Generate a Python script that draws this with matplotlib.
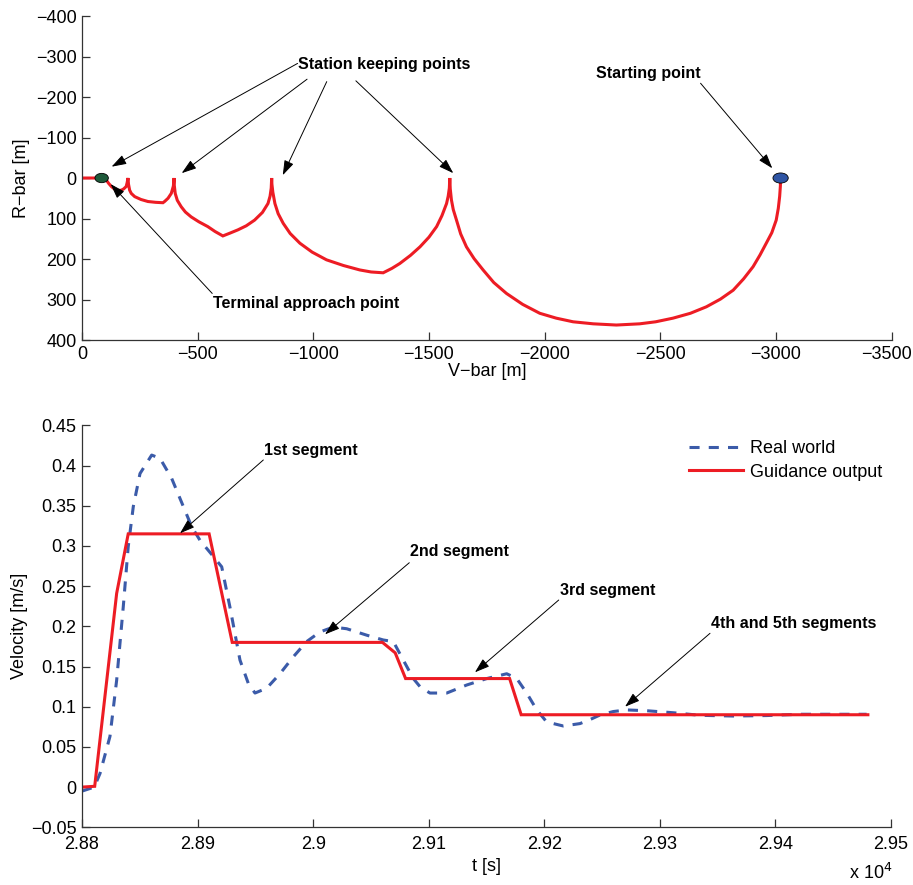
#!/usr/bin/env python3
"""Rendezvous trajectory (V-bar / R-bar) and velocity profile vs time."""
import matplotlib

matplotlib.use("Agg")
import matplotlib.pyplot as plt
from matplotlib.patches import Ellipse
from matplotlib.ticker import FuncFormatter
from matplotlib.transforms import ScaledTranslation

plt.rcParams["font.family"] = ["Liberation Sans", "DejaVu Sans"]
plt.rcParams["axes.unicode_minus"] = True

RED = "#ed1c24"
BLUE = "#3b5ba9"

# --- top panel: trajectory in the LVLH plane --------------------------------
vbar = [-3020, -3019, -3016, -3010, -3001, -2982, -2958, -2931, -2901, -2860,
        -2815, -2760, -2699, -2630, -2555, -2480, -2411, -2310, -2210, -2123,
        -2050, -1979, -1905, -1835, -1780, -1734, -1695, -1662, -1637, -1619,
        -1605, -1597, -1592, -1590,
        -1588, -1583, -1576, -1556, -1533, -1500, -1461, -1420, -1374, -1340,
        -1302, -1250, -1201, -1130, -1057, -995, -942, -900, -870, -848,
        -834, -825, -821, -820,
        -818, -813, -804, -780, -746, -710, -674, -640, -609, -575,
        -544, -505, -472, -447, -429, -412, -403, -399, -398,
        -395, -386, -372, -357, -350, -318, -285, -255, -228, -213,
        -206, -201, -199,
        -195, -191, -180, -170, -156, -140, -127, -115, -105, -85, 0]
rbar = [0, 20, 45, 75, 104, 135, 161, 190, 219, 249,
        277, 299, 318, 334, 346, 355, 360, 363, 360, 355,
        346, 334, 312, 285, 258, 227, 199, 170, 138, 104,
        78, 54, 27, 0,
        25, 45, 63, 93, 120, 146, 170, 191, 211, 223,
        234, 232, 227, 216, 202, 183, 161, 137, 112, 88,
        63, 35, 15, 0,
        25, 45, 63, 85, 104, 118, 128, 136, 143, 132,
        120, 108, 96, 84, 71, 55, 38, 18, 0,
        20, 38, 50, 58, 61, 60, 58, 53, 46, 38,
        30, 15, 0,
        12, 21, 27, 30, 31, 27, 21, 13, 5, 0, 0]

start_pt = (-3020, 0)
terminal_pt = (-85, 0)

# --- bottom panel: velocity profile ----------------------------------------
t_guid = [28800, 28811, 28830, 28840, 28910, 28930, 29060, 29071, 29080,
          29170, 29180, 29480]
v_guid = [0.0, 0.001, 0.241, 0.315, 0.315, 0.18, 0.18, 0.167, 0.135,
          0.135, 0.09, 0.09]

t_real = [28800, 28810.6, 28815.6, 28824.2, 28830, 28835.7, 28840, 28844.4,
          28850.2, 28860.3, 28867.5, 28877.6, 28887.7, 28894.9, 28902.1,
          28913.6, 28920.9, 28928, 28936.7, 28943.9, 28949.7, 28959.8,
          28971.3, 28982.8, 28994.4, 29005.9, 29017.4, 29029, 29046.3,
          29060.7, 29069.4, 29078, 29086.7, 29093, 29101.1, 29115.6,
          29132.9, 29150.2, 29167.5, 29176.2, 29184.8, 29193.5, 29202.1,
          29216.5, 29230.9, 29239.6, 29248.2, 29259.7, 29271.3, 29288.6,
          29311.6, 29334.7, 29363.5, 29392.4, 29421.2, 29450, 29478.9]
v_real = [-0.005, 0.0, 0.017, 0.063, 0.133, 0.224, 0.299, 0.349,
          0.39, 0.413, 0.409, 0.384, 0.349, 0.324, 0.307,
          0.287, 0.274, 0.224, 0.158, 0.129, 0.117, 0.123,
          0.141, 0.162, 0.181, 0.193, 0.199, 0.197, 0.189,
          0.183, 0.181, 0.158, 0.135, 0.124, 0.117, 0.117,
          0.127, 0.135, 0.141, 0.135, 0.117, 0.096, 0.081,
          0.076, 0.079, 0.084, 0.0897, 0.094, 0.096, 0.095,
          0.0925, 0.0893, 0.0884, 0.089, 0.0906, 0.0906, 0.0906]

TICK_FS = 13
NOTE_FS = 11.5


def style_axes(ax):
    for side in ("top", "right"):
        ax.spines[side].set_visible(False)
    for side in ("left", "bottom"):
        ax.spines[side].set_color("#333333")
        ax.spines[side].set_linewidth(0.9)
    ax.tick_params(direction="in", length=6, width=0.9, color="#333333",
                   labelsize=TICK_FS, pad=4)
    ax.tick_params(axis="x", pad=6)


def arrow(ax, tail, tip):
    ax.annotate("", xy=tip, xytext=tail,
                arrowprops=dict(arrowstyle="-|>,head_length=0.9,head_width=0.3",
                                color="black", lw=0.7, shrinkA=0, shrinkB=0))


def fmt_num(v, _pos):
    return f"{v:g}".replace("-", "\u2212")


fig = plt.figure(figsize=(9.13, 8.85), dpi=100)
ax1 = fig.add_axes([0.0898, 0.6158, 0.8868, 0.3661])
ax2 = fig.add_axes([0.0898, 0.0652, 0.8861, 0.4542])

# top
ax1.plot(vbar, rbar, color=RED, lw=2.2, solid_joinstyle="miter")
ax1.add_patch(Ellipse(terminal_pt, 58, 23, facecolor="#1e5a3a",
                      edgecolor="black", lw=0.6, zorder=5))
ax1.add_patch(Ellipse(start_pt, 66, 25, facecolor="#2f55a4",
                      edgecolor="black", lw=0.6, zorder=5))
ax1.set_xlim(0, -3500)
ax1.set_ylim(400, -400)
ax1.set_xticks(range(0, -3501, -500))
ax1.set_yticks(range(-400, 401, 100))
ax1.xaxis.set_major_formatter(FuncFormatter(fmt_num))
ax1.yaxis.set_major_formatter(FuncFormatter(fmt_num))
ax1.set_xlabel("V\u2212bar [m]", fontsize=TICK_FS, labelpad=0)
ax1.set_ylabel("R\u2212bar [m]", fontsize=TICK_FS, labelpad=4)
style_axes(ax1)
ax1.tick_params(axis="x", pad=4)
last = ax1.xaxis.get_major_ticks()[-1].label1
last.set_transform(last.get_transform()
                   + ScaledTranslation(-0.05, 0, fig.dpi_scale_trans))

ax1.text(-932, -281, "Station keeping points", fontsize=NOTE_FS,
         fontweight="bold", ha="left", va="center")
for tail, tip in [((-932, -283), (-128, -28)), ((-973, -244), (-431, -12)),
                  ((-1058, -238), (-868, -7)), ((-1184, -240), (-1605, -12))]:
    arrow(ax1, tail, tip)
ax1.text(-568, 309, "Terminal approach point", fontsize=NOTE_FS,
         fontweight="bold", ha="left", va="center")
arrow(ax1, (-563, 285), (-124, 15))
ax1.text(-2221, -257, "Starting point", fontsize=NOTE_FS,
         fontweight="bold", ha="left", va="center")
arrow(ax1, (-2674, -234), (-2984, -24))

# bottom
ax2.plot(t_real, v_real, color=BLUE, lw=2.2, dashes=(3.3, 3.0),
         label="Real world")
ax2.plot(t_guid, v_guid, color=RED, lw=2.2, solid_joinstyle="miter",
         label="Guidance output")
ax2.set_xlim(28800, 29500)
ax2.set_ylim(-0.05, 0.45)
ax2.set_xticks(range(28800, 29501, 100))
ax2.set_yticks([i * 0.05 for i in range(-1, 10)])
ax2.xaxis.set_major_formatter(FuncFormatter(lambda v, p: fmt_num(round(v / 1e4, 4), p)))
ax2.yaxis.set_major_formatter(FuncFormatter(lambda v, p: fmt_num(round(v, 3), p)))
ax2.set_xlabel("t [s]", fontsize=TICK_FS, labelpad=4)
ax2.set_ylabel("Velocity [m/s]", fontsize=TICK_FS, labelpad=2)
style_axes(ax2)
fig.text(0.978, 1 - 873 / 885, r"x 10$^4$", fontsize=TICK_FS,
         ha="right", va="center")

ax2.legend(loc="upper left", bbox_to_anchor=(0.750, 0.963), frameon=False,
           fontsize=TICK_FS, handlelength=3.0, handletextpad=0.4,
           labelspacing=0.35, borderpad=0, borderaxespad=0)

notes = [("1st segment", (28957.7, 0.4193), (28956.9, 0.4069), (28884.8, 0.3157)),
         ("2nd segment", (29083.8, 0.2928), (29083.2, 0.2791), (29010.3, 0.190)),
         ("3rd segment", (29213.6, 0.2451), (29212.5, 0.2327), (29140, 0.1428)),
         ("4th and 5th segments", (29344, 0.2029), (29343.4, 0.1913),
          (29269.9, 0.100))]
for label, txt_pos, tail, tip in notes:
    ax2.text(*txt_pos, label, fontsize=NOTE_FS, fontweight="bold",
             ha="left", va="center")
    arrow(ax2, tail, tip)

fig.savefig("out.png", dpi=100)
